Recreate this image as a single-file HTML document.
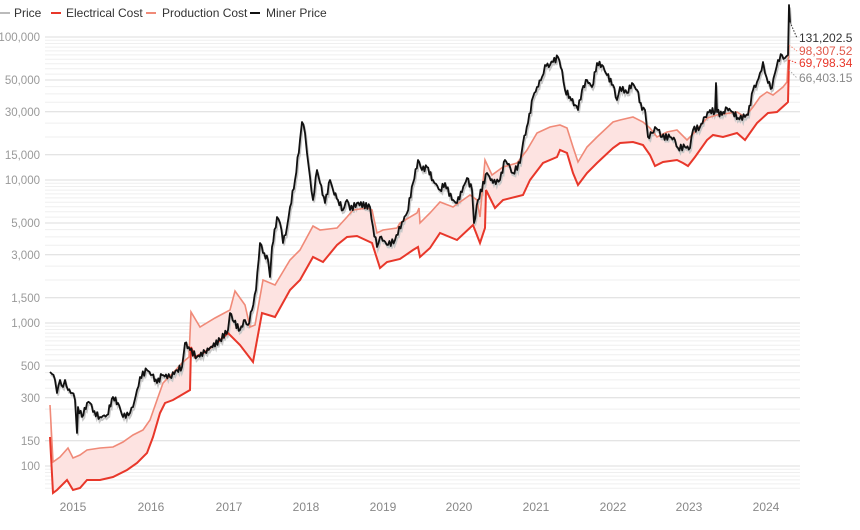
<!DOCTYPE html>
<html><head><meta charset="utf-8"><style>
body{margin:0;background:#fff;}
svg{display:block;font-family:"Liberation Sans",Arial,sans-serif;}
</style></head><body>
<svg id="s" width="860" height="530" viewBox="0 0 860 530" xmlns="http://www.w3.org/2000/svg">
<g id="grid"></g>
<g font-size="11.5" fill="#999" text-anchor="end">
<text x="40" y="41">100,000</text><text x="40" y="84">50,000</text><text x="40" y="116">30,000</text>
<text x="40" y="159">15,000</text><text x="40" y="184">10,000</text><text x="40" y="227">5,000</text>
<text x="40" y="259">3,000</text><text x="40" y="302">1,500</text><text x="40" y="327">1,000</text>
<text x="40" y="370">500</text><text x="40" y="402">300</text><text x="40" y="445">150</text><text x="40" y="470">100</text>
</g>
<g font-size="12" fill="#888" text-anchor="middle">
<text x="73" y="511">2015</text><text x="151" y="511">2016</text><text x="229" y="511">2017</text><text x="306" y="511">2018</text>
<text x="383" y="511">2019</text><text x="459" y="511">2020</text><text x="536" y="511">2021</text><text x="613" y="511">2022</text>
<text x="689" y="511">2023</text><text x="766" y="511">2024</text>
</g>
<g id="plot"></g>
<g font-size="12">
<line x1="0" y1="13" x2="10" y2="13" stroke="#bbb" stroke-width="2"/><text x="14" y="17" fill="#333">Price</text>
<line x1="51" y1="13" x2="61" y2="13" stroke="#e8372a" stroke-width="2"/><text x="66" y="17" fill="#333">Electrical Cost</text>
<line x1="146" y1="13" x2="156" y2="13" stroke="#f08a78" stroke-width="2"/><text x="162" y="17" fill="#333">Production Cost</text>
<line x1="250" y1="13" x2="260" y2="13" stroke="#111" stroke-width="2"/><text x="266" y="17" fill="#333">Miner Price</text>
</g>
<g font-size="12">
<text x="799" y="42" fill="#333">131,202.5</text>
<text x="799" y="55" fill="#e0584a">98,307.52</text>
<text x="799" y="67" fill="#e8372a">69,798.34</text>
<text x="799" y="82" fill="#888">66,403.15</text>
<line x1="790" y1="22" x2="797" y2="38" stroke="#333" stroke-dasharray="1.5,1.5"/>
<line x1="789" y1="45" x2="797" y2="51" stroke="#f08a78" stroke-dasharray="1.5,1.5"/>
<line x1="789" y1="60" x2="797" y2="63" stroke="#e8372a" stroke-dasharray="1.5,1.5"/>
<line x1="789" y1="70" x2="797" y2="78" stroke="#aaa" stroke-dasharray="1.5,1.5"/>
</g>
</svg>
<script>
function Y(v){return 466-143*Math.log10(v/100);}
var g=document.getElementById('grid'),h='';
var majors=[100000,50000,30000,15000,10000,5000,3000,1500,1000,500,300,150,100];
for(var k=10;k<=100000;k*=10){for(var n=1;n<10;n+=0.5){var vv=n*k;
 if(vv<70||vv>140000)continue; var y=Y(vv);
 h+='<line x1="45" x2="800" y1="'+y.toFixed(1)+'" y2="'+y.toFixed(1)+'" stroke="'+(majors.indexOf(vv)>=0?'#dcdcdc':'#efefef')+'" stroke-width="1"/>';}}
g.innerHTML=h;
var red=[[50,437],[53,493],[57,490],[67,480],[73,490],[80,488],[87,480],[100,480],[113,477],[127,470],[137,463],[147,453],[153,437],[160,413],[165,403],[173,400],[190,390],[191,347],[195,357],[205,352],[218,342],[228,333],[240,345],[253,362],[262,313],[275,317],[290,290],[300,280],[313,257],[323,262],[337,245],[347,237],[357,236],[372,243],[380,268],[387,262],[400,259],[413,250],[418,247],[420,257],[430,248],[440,233],[457,240],[473,225],[480,243],[485,228],[486,190],[495,208],[503,200],[523,195],[530,180],[543,163],[557,157],[560,150],[567,153],[573,173],[578,185],[587,173],[597,163],[613,148],[620,143],[633,142],[643,145],[650,155],[655,166],[663,162],[677,160],[683,163],[688,166],[695,157],[707,140],[713,135],[723,137],[737,133],[745,140],[757,123],[768,113],[777,112],[787,103],[788,102],[789,60]];
var sal=[[50,405],[53,462],[60,457],[68,448],[73,458],[80,455],[87,450],[100,448],[113,447],[123,442],[133,435],[143,430],[150,420],[157,400],[163,383],[173,373],[182,363],[189,357],[191,312],[200,327],[215,318],[230,310],[235,291],[245,305],[250,327],[255,325],[263,280],[275,285],[290,260],[300,250],[313,226],[320,230],[337,228],[347,217],[353,210],[367,208],[372,210],[377,233],[383,230],[397,228],[400,223],[417,213],[419,208],[420,223],[430,213],[440,202],[453,207],[470,195],[477,200],[480,217],[485,160],[492,175],[503,167],[517,163],[527,150],[537,133],[550,127],[560,125],[567,128],[573,147],[578,162],[587,147],[597,137],[613,122],[620,120],[633,117],[643,122],[650,128],[657,137],[667,132],[677,130],[687,140],[695,132],[707,118],[717,115],[737,112],[745,117],[753,107],[760,97],[767,92],[773,95],[783,87],[787,82],[789,45]];
var blk=[[50,372],[52,374],[55,380],[57,393],[60,380],[63,387],[65,380],[68,390],[72,393],[75,400],[77,433],[78,407],[82,417],[87,403],[90,403],[93,412],[100,417],[107,415],[113,397],[118,403],[123,417],[130,413],[133,407],[137,390],[140,377],[147,370],[152,375],[157,383],[162,375],[170,377],[177,370],[182,367],[185,343],[190,350],[197,357],[205,352],[220,340],[228,330],[230,313],[234,322],[240,330],[245,320],[248,325],[252,310],[256,290],[260,243],[263,253],[268,260],[270,277],[272,247],[277,217],[280,223],[283,243],[287,227],[290,207],[295,180],[300,140],[302,122],[305,133],[307,153],[310,177],[313,200],[317,170],[320,183],[325,203],[330,180],[333,190],[338,200],[343,210],[347,200],[350,210],[357,203],[370,207],[373,227],[377,247],[380,237],[388,245],[395,240],[402,222],[407,213],[413,183],[418,160],[422,170],[427,167],[433,180],[440,190],[445,183],[452,200],[457,203],[467,178],[472,190],[474,223],[478,200],[487,173],[493,183],[500,180],[505,160],[510,167],[513,173],[520,163],[523,143],[528,123],[533,97],[537,87],[542,77],[545,65],[550,65],[553,62],[558,57],[562,70],[565,90],[570,97],[575,105],[578,110],[582,90],[587,80],[592,87],[597,63],[602,65],[607,75],[613,85],[617,100],[620,87],[627,93],[632,83],[637,90],[642,110],[645,110],[648,137],[652,133],[655,127],[658,130],[662,137],[670,137],[675,140],[678,148],[685,147],[690,148],[693,130],[700,127],[705,117],[710,110],[715,112],[716,83],[717,112],[722,115],[727,108],[733,112],[738,118],[745,117],[748,115],[753,90],[757,82],[760,73],[763,62],[765,73],[768,83],[772,88],[775,73],[778,60],[782,55],[785,58],[788,55],[789,5],[790,22]];
function jit(a,amp){var o=[];for(var i=0;i<a.length-1;i++){var p=a[i],q=a[i+1];o.push(p);var n=Math.floor((q[0]-p[0])/1.2);for(var j=1;j<n;j++){var t=j/n;o.push([p[0]+(q[0]-p[0])*t,p[1]+(q[1]-p[1])*t+(Math.sin(i*7.3+j*2.9)*amp)]);}}o.push(a[a.length-1]);return o;}
function d(a){return 'M'+a.map(function(p){return p[0].toFixed(1)+','+p[1].toFixed(1)}).join('L');}
var fill=sal.concat(red.slice().reverse());
var bj=jit(blk,3);
var gray=bj.map(function(p){return [p[0]+1,p[1]+2.5]});
var P=document.getElementById('plot');
P.innerHTML='<path d="'+d(fill)+'Z" fill="#fde3e1" stroke="none"/>'+
'<path d="'+d(gray)+'" fill="none" stroke="#c8c8c8" stroke-width="2"/>'+
'<path d="'+d(sal)+'" fill="none" stroke="#f08a78" stroke-width="1.6"/>'+
'<path d="'+d(red)+'" fill="none" stroke="#e8372a" stroke-width="2"/>'+
'<path d="'+d(bj)+'" fill="none" stroke="#111" stroke-width="1.8" stroke-linejoin="round"/>';
</script>
</body></html>
